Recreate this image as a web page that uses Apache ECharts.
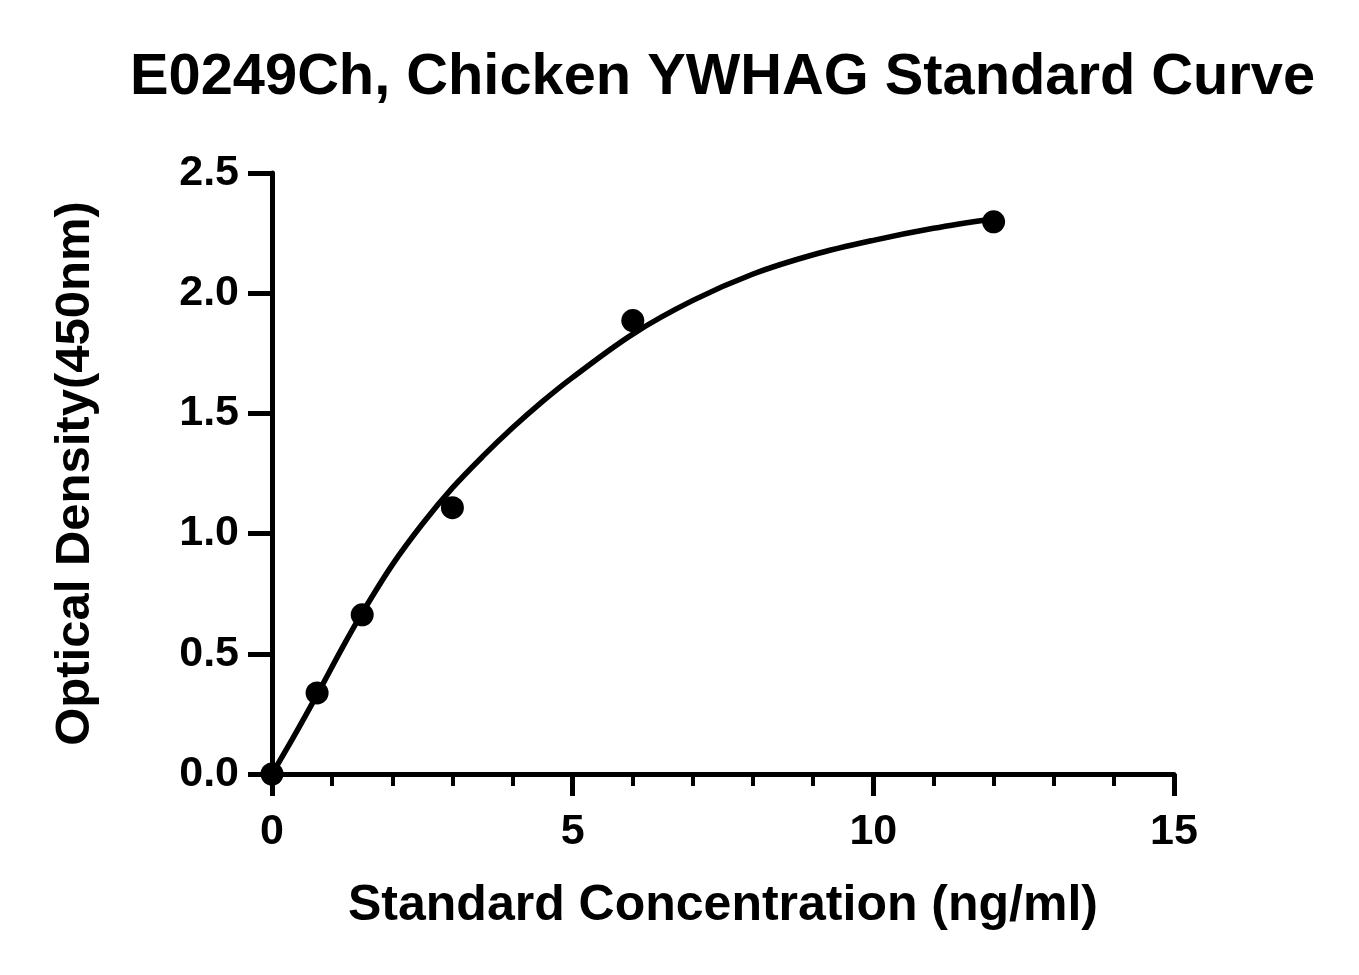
<!DOCTYPE html>
<html>
<head>
<meta charset="utf-8">
<script src="https://cdn.jsdelivr.net/npm/echarts@6/dist/echarts.min.js"></script>
<style>
html,body{margin:0;padding:0;background:#fff;}
#c{width:1359px;height:975px;}
</style>
</head>
<body>
<div id="c"></div>
<script>
// Measured standard points
var stdConc = [0, 0.75, 1.5, 3, 6, 12];
var stdOD = [0.0, 0.337, 0.662, 1.108, 1.886, 2.297];
// Fitted curve
var curveX = [0, 0.35, 0.75, 1.18, 1.5, 2.0, 2.5, 3.0, 3.5, 4.0, 4.5, 5.0, 6.0, 7.0, 8.0, 9.0, 10.0, 11.0, 12.0];
var curveY = [0, 0.15, 0.33, 0.53, 0.67, 0.87, 1.04, 1.19, 1.32, 1.44, 1.55, 1.65, 1.83, 1.97, 2.08, 2.16, 2.22, 2.27, 2.31];
// Tick labels
var xTickLabels = ['0', '5', '10', '15'];
var yTickLabels = ['0.0', '0.5', '1.0', '1.5', '2.0', '2.5'];

var titleText = 'E0249Ch, Chicken YWHAG Standard Curve';
var xName = 'Standard Concentration (ng/ml)';
var yName = 'Optical Density(450nm)';

var FONT = "'Liberation Sans', Arial, Helvetica, sans-serif";

var chart = echarts.init(document.getElementById('c'), null, {renderer: 'canvas'});
chart.setOption({
  backgroundColor: '#ffffff',
  animation: false,
  title: {
    text: titleText,
    left: 125,
    top: 44,
    textStyle: {fontFamily: FONT, fontWeight: 'bold', fontSize: 57.8, color: '#000'}
  },
  grid: {left: 272, right: 185, top: 173, bottom: 201, containLabel: false},
  xAxis: {
    type: 'value', min: 0, max: 15, interval: 5,
    name: xName, nameLocation: 'middle', nameGap: 107,
    nameTextStyle: {fontFamily: FONT, fontWeight: 'bold', fontSize: 50, color: '#000'},
    axisLine: {show: true, lineStyle: {color: '#000', width: 5}},
    axisTick: {show: true, length: 22, lineStyle: {color: '#000', width: 5}},
    minorTick: {show: true, splitNumber: 5, length: 12, lineStyle: {color: '#000', width: 4}},
    splitLine: {show: false},
    axisLabel: {
      margin: 37, fontFamily: FONT, fontWeight: 'bold', fontSize: 43, color: '#000',
      formatter: function (v) { return xTickLabels[Math.round(v / 5)]; }
    }
  },
  yAxis: {
    type: 'value', min: 0, max: 2.5, interval: 0.5,
    name: yName, nameLocation: 'middle', nameGap: 172, nameRotate: 90,
    nameTextStyle: {fontFamily: FONT, fontWeight: 'bold', fontSize: 49, color: '#000'},
    axisLine: {show: true, lineStyle: {color: '#000', width: 5}},
    axisTick: {show: true, length: 24, lineStyle: {color: '#000', width: 5}},
    splitLine: {show: false},
    axisLabel: {
      margin: 33, fontFamily: FONT, fontWeight: 'bold', fontSize: 43, color: '#000',
      formatter: function (v) { return yTickLabels[Math.round(v / 0.5)]; }
    }
  },
  series: [
    {
      type: 'line',
      data: curveX.map(function (x, i) { return [x, curveY[i]]; }),
      smooth: 0.35,
      showSymbol: false,
      lineStyle: {color: '#000', width: 5.5},
      z: 2
    },
    {
      type: 'scatter',
      data: stdConc.map(function (x, i) { return [x, stdOD[i]]; }),
      symbol: 'circle',
      symbolSize: 23,
      itemStyle: {color: '#000', opacity: 1},
      z: 3
    }
  ]
});
</script>
</body>
</html>
